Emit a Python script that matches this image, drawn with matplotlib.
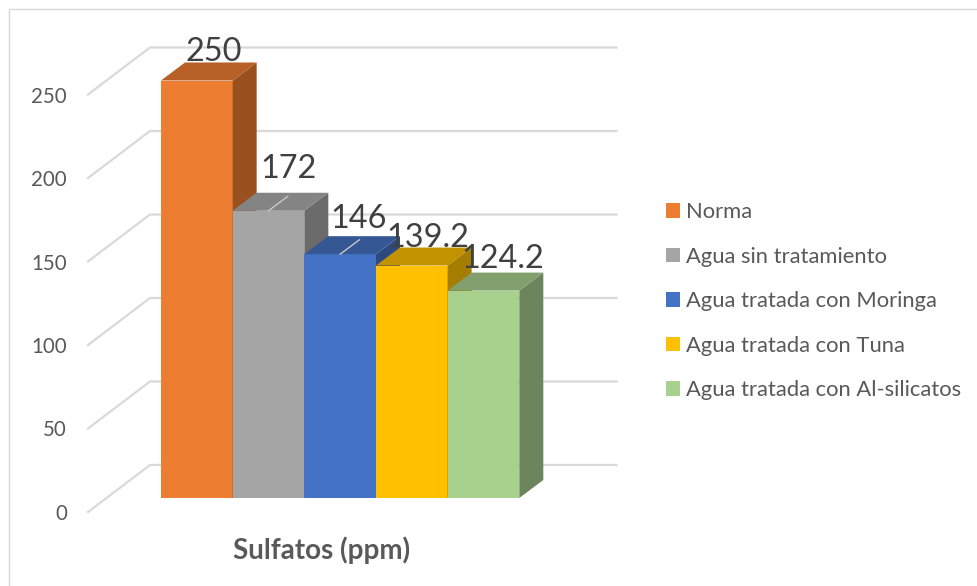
import matplotlib
matplotlib.use('Agg')
import matplotlib.pyplot as plt
from matplotlib.lines import Line2D
from matplotlib.patches import Patch, Polygon

plt.rcParams['font.family'] = ['Lato', 'DejaVu Sans']

nombres = ['Norma', 'Agua sin tratamiento', 'Agua tratada con Moringa',
           'Agua tratada con Tuna', 'Agua tratada con Al-silicatos']
valores = [250, 172, 146, 139.2, 124.2]
etiquetas = ['250', '172', '146', '139.2', '124.2']
ticks = [0, 50, 100, 150, 200, 250]
frente = ['#ED7D31', '#A5A5A5', '#4472C4', '#FFC000', '#A9D18E']
arriba = ['#B65F26', '#848484', '#355793', '#C29200', '#82A06D']
lado = ['#9A5120', '#6B6B6B', '#2B4A80', '#A57D00', '#6C855C']
# hand nudges of the value labels, in pixels
ajuste_x = [3, 6, 4, 2, 5]
ajuste_y = [-3, 10, 4, -4, 0]

W, H = 977, 586
fig = plt.figure(figsize=(W / 100, H / 100), dpi=100)
# axes sits on the front plane of the bars
ax = fig.add_axes([161 / W, (H - 498) / H, 358.3 / W, 417.5 / H])
ax.set_xlim(0, 5)
ax.set_ylim(0, 250)
ax.axis('off')

PX = 358.3 / 5
PY = 417.5 / 250
dx = 24 / PX
dy = 18 / PY

# walls
for t in ticks:
    ax.plot([-73 / PX, -11 / PX, 455.5 / PX], [t - 14 / PY, t + 33 / PY, t + 33 / PY],
            color='#D9D9D9', lw=1.6, clip_on=False, zorder=1, solid_joinstyle='miter')
    ax.text(-94 / PX, t - 16 / PY, str(t), ha='right', va='center', fontsize=14.8,
            color='#595959', clip_on=False)

for i, v in enumerate(valores):
    ax.bar(i, v, width=1, align='edge', color=frente[i], zorder=3 + i)
    ax.add_patch(Polygon([(i + 1, 0), (i + 1 + dx, dy), (i + 1 + dx, v + dy), (i + 1, v)],
                         color=lado[i], lw=0, clip_on=False, zorder=3 + i))
    ax.add_patch(Polygon([(i, v), (i + dx, v + dy), (i + 1 + dx, v + dy), (i + 1, v)],
                         color=arriba[i], lw=0, clip_on=False, zorder=3 + i))

# gridline showing through the tops of two bars
for i in [1, 2]:
    ax.plot([i + 0.5, i + 0.5 + 0.8 * dx], [valores[i], valores[i] + 0.8 * dy],
            color='#C8C8C8', lw=1, clip_on=False, zorder=10)

for i, v in enumerate(valores):
    ax.text(i + 0.5 + dx / 2 + 0.03 + ajuste_x[i] / PX, v + dy - 1 + ajuste_y[i] / PY,
            etiquetas[i], ha='center', va='bottom', fontsize=23.4, color='#404040',
            clip_on=False, zorder=20)

handles = [Patch(color=c, lw=0) for c in frente]
fig.legend(handles, nombres, loc='upper left', bbox_to_anchor=(666 / W, (H - 202) / H),
           frameon=False, fontsize=15.8, labelcolor='#595959', labelspacing=1.12,
           handlelength=0.64, handleheight=0.64, handletextpad=0.25, borderaxespad=0,
           borderpad=0)

fig.text(322 / W, (H - 550) / H, 'Sulfatos (ppm)', ha='center', va='center',
         fontsize=20, fontweight='bold', color='#595959')

fig.add_artist(Line2D([8.5 / W, 8.5 / W, 1], [0, (H - 8.5) / H, (H - 8.5) / H],
                      color='#D9D9D9', lw=1, transform=fig.transFigure))

fig.savefig('out.png', dpi=100)
